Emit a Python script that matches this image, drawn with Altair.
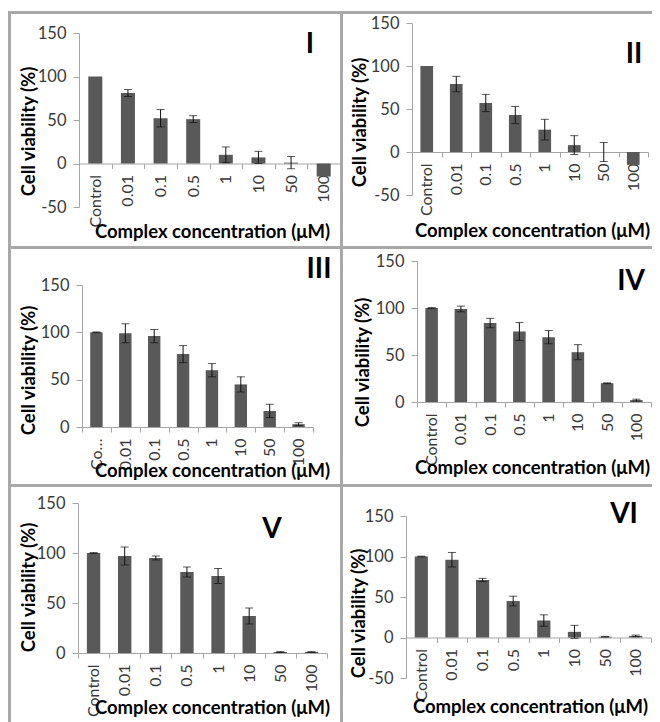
import altair as alt
import pandas as pd

categories = ["Control", "0.01", "0.1", "0.5", "1", "10", "50", "100"]
numerals = ["I", "II", "III", "IV", "V", "VI"]

vals_I = [100, 81, 52, 51, 10, 7, 1, -15]
err_I = [0, 4, 10, 4, 9, 7, 7, 0]
vals_II = [100, 79, 57, 43, 26, 8, 0, -15]
err_II = [0, 9, 10, 10, 12, 11, 11, 0]
vals_III = [100, 99, 96, 77, 60, 45, 17, 3]
err_III = [0.4, 10, 7, 9, 7, 8, 7, 1.5]
vals_IV = [100, 99, 84, 75, 69, 53, 20, 2]
err_IV = [0.4, 3, 5, 9.5, 7, 8, 0.4, 1]
vals_V = [100, 97, 95, 81, 77, 37, 1, 1]
err_V = [0.4, 9, 2, 5, 7.5, 8, 0.4, 0.4]
vals_VI = [100, 96, 71, 45, 21, 7, 1, 2]
err_VI = [0.4, 9, 2, 6, 7, 8, 0.4, 1]

FONT = "Lato"
BAR = "#595959"
SEP = "#a8a8a8"
AXC = "#a6a6a6"
VW, VH = 644, 714


def panel(vals, errs, numeral, xr, yr, ymin, num_xy, xt, yt, ctrl_short=False):
    """xr: (left, right) pixels; yr: (bottom, top) pixels of the value axis."""
    df = pd.DataFrame({"cat": categories, "v": vals, "e": errs})
    one = pd.DataFrame({"k": [0]})
    yvals = [-50, 0, 50, 100, 150] if ymin < 0 else [0, 50, 100, 150]
    zero_y = yr[1] + (yr[0] - yr[1]) * 150 / (150 - ymin)
    label_expr = ("datum.label == 'Control' ? 'Co…' : datum.label"
                  if ctrl_short else "datum.label")
    xaxis = alt.Axis(
        orient="bottom", offset=zero_y - VH,
        title="Complex concentration (μM)", titleFont=FONT, titleFontSize=18.5,
        titleFontWeight="bold", titleColor="#000", titleX=xt[0], titleY=xt[1],
        titleBaseline="middle", titleAlign="center",
        labelAngle=270, labelFont=FONT, labelFontSize=16, labelColor="#3a3a3a",
        labelPadding=6, labelExpr=label_expr, tickBand="extent",
        domainColor=AXC, tickColor=AXC, tickSize=5, grid=False,
    )
    yaxis = alt.Axis(
        orient="left", offset=-xr[0],
        values=yvals, title="Cell viability (%)", titleFont=FONT, titleFontSize=18.5,
        titleFontWeight="bold", titleColor="#000", titleX=yt[0], titleY=yt[1],
        titleAngle=270, titleBaseline="middle", titleAlign="center",
        labelFont=FONT, labelFontSize=16.5, labelColor="#3a3a3a", labelPadding=7,
        labelExpr="replace(datum.label, '\u2212', '-')",
        domainColor=AXC, tickColor=AXC, tickSize=6, grid=False,
    )
    xs = alt.X("cat:N", sort=categories,
               scale=alt.Scale(domain=categories, range=list(xr),
                               paddingInner=0, paddingOuter=0),
               axis=xaxis)
    ys = alt.Scale(domain=[ymin, 150], range=list(yr), nice=False)

    bars = alt.Chart(df).mark_bar(color=BAR, width=alt.RelativeBandSize(0.43)).encode(
        x=xs, y=alt.Y("v:Q", scale=ys, axis=yaxis))
    eb = alt.Chart(df).transform_filter("datum.e > 0").transform_calculate(
        lo="datum.v - datum.e", hi="datum.v + datum.e")
    rule = eb.mark_rule(color="#111", strokeWidth=1).encode(
        x=alt.X("cat:N", sort=categories), y=alt.Y("lo:Q"), y2="hi:Q")
    cap_lo = eb.mark_tick(color="#111", thickness=1, size=8).encode(
        x=alt.X("cat:N", sort=categories), y=alt.Y("lo:Q"))
    cap_hi = eb.mark_tick(color="#111", thickness=1, size=8).encode(
        x=alt.X("cat:N", sort=categories), y=alt.Y("hi:Q"))
    num = alt.Chart(one).mark_text(
        text=numeral, font=FONT, fontSize=28, fontWeight="bold", color="#000",
        align="center", baseline="middle").encode(
        x=alt.value(num_xy[0]), y=alt.value(num_xy[1]))
    return alt.layer(bars, rule, cap_lo, cap_hi, num)


p1 = panel(vals_I, err_I, numerals[0], (71, 332), (199, 25), -50,
           (302, 37), (204, 68), (-51, 123))
p2 = panel(vals_II, err_II, numerals[1], (404, 640), (187, 15), -50,
           (626, 47), (524, 78), (-53, 114))
p3 = panel(vals_III, err_III, numerals[2], (74, 305), (419, 277), 0,
           (311, 262), (204, 43), (-54, 362), ctrl_short=True)
p4 = panel(vals_IV, err_IV, numerals[3], (409, 643), (394, 253), 0,
           (623, 274), (524, 65), (-55, 354))
p5 = panel(vals_V, err_V, numerals[4], (70, 319), (645, 495), 0,
           (264, 522), (204, 54), (-50, 579))
p6 = panel(vals_VI, err_VI, numerals[5], (398, 643), (670, 508), -50,
           (616, 507), (522, 69), (-48, 605))

one = pd.DataFrame({"k": [0]})
sep_rules = [
    alt.Chart(one).mark_rule(color=SEP, strokeWidth=3).encode(
        x=alt.value(0), x2=alt.value(VW), y=alt.value(4.5)),
    alt.Chart(one).mark_rule(color=SEP, strokeWidth=3).encode(
        x=alt.value(0), x2=alt.value(VW), y=alt.value(239.5)),
    alt.Chart(one).mark_rule(color=SEP, strokeWidth=3).encode(
        x=alt.value(0), x2=alt.value(VW), y=alt.value(477.5)),
    alt.Chart(one).mark_rule(color=SEP, strokeWidth=3).encode(
        x=alt.value(1.5), y=alt.value(3), y2=alt.value(VH)),
    alt.Chart(one).mark_rule(color=SEP, strokeWidth=3).encode(
        x=alt.value(333.5), y=alt.value(3), y2=alt.value(VH)),
]

chart = alt.layer(*sep_rules, p1, p2, p3, p4, p5, p6).resolve_scale(
    x="independent", y="independent"
).properties(
    width=VW, height=VH, padding=0, background="white",
    autosize=alt.AutoSizeParams(type="none"),
).configure_view(strokeWidth=0)

chart.save("out.html", embed_options={"renderer": "svg", "actions": False})
